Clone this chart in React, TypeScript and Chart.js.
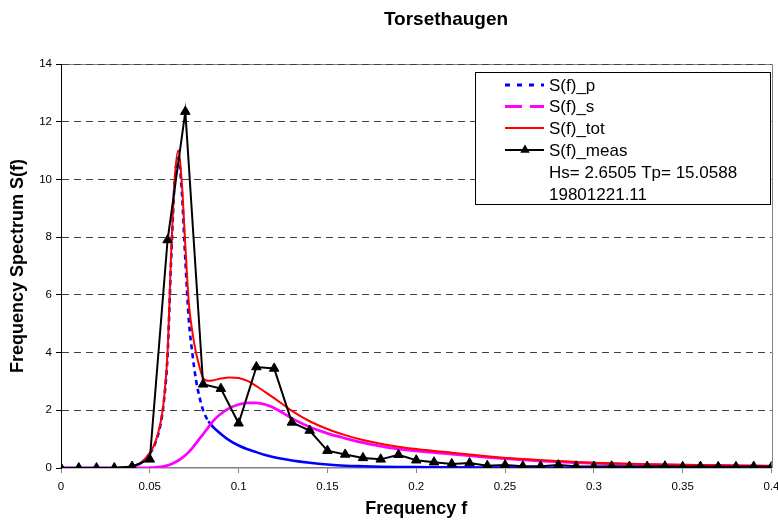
import React, { useEffect, useRef } from 'react';
import { Chart, registerables } from 'chart.js';

Chart.register(...registerables);

// ---- Data ----
const chartTitle = 'Torsethaugen';
const xAxisTitle = 'Frequency f';
const yAxisTitle = 'Frequency Spectrum S(f)';
const seriesLabels = ['S(f)_p', 'S(f)_s', 'S(f)_tot', 'S(f)_meas'];
const legendNotes = ['Hs= 2.6505 Tp= 15.0588', '19801221.11'];

const xTickValues = [0, 0.05, 0.1, 0.15, 0.2, 0.25, 0.3, 0.35, 0.4];
const xTickLabels = ['0', '0.05', '0.1', '0.15', '0.2', '0.25', '0.3', '0.35', '0.4'];
const yTickValues = [0, 2, 4, 6, 8, 10, 12, 14];

const measFreq = [
  0, 0.01, 0.02, 0.03, 0.04, 0.05, 0.06, 0.07, 0.08, 0.09, 0.1, 0.11, 0.12, 0.13,
  0.14, 0.15, 0.16, 0.17, 0.18, 0.19, 0.2, 0.21, 0.22, 0.23, 0.24, 0.25, 0.26, 0.27,
  0.28, 0.29, 0.3, 0.31, 0.32, 0.33, 0.34, 0.35, 0.36, 0.37, 0.38, 0.39, 0.4,
];
const measValues = [
  0, 0, 0, 0, 0.05, 0.3, 7.9, 12.35, 2.9, 2.75, 1.55, 3.5, 3.45, 1.58,
  1.3, 0.6, 0.47, 0.35, 0.3, 0.46, 0.27, 0.2, 0.14, 0.17, 0.08, 0.1, 0.06, 0.06,
  0.1, 0.06, 0.05, 0.06, 0.05, 0.05, 0.06, 0.04, 0.05, 0.04, 0.04, 0.05, 0.04,
];

const curveFreq = [
  0, 0.02, 0.035, 0.04, 0.045, 0.05, 0.053, 0.056, 0.058, 0.06, 0.062, 0.064, 0.066,
  0.068, 0.07, 0.072, 0.074, 0.076, 0.078, 0.08, 0.083, 0.086, 0.09, 0.095, 0.1,
  0.105, 0.11, 0.115, 0.12, 0.13, 0.14, 0.15, 0.16, 0.17, 0.18, 0.19, 0.2, 0.22,
  0.24, 0.26, 0.28, 0.3, 0.33, 0.36, 0.4,
];
const sPrimary = [
  0, 0, 0.01, 0.05, 0.17, 0.5, 0.85, 1.5, 2.35, 3.9, 7.2, 9.9, 10.75,
  9.6, 7.2, 5.1, 3.95, 3.05, 2.45, 2.0, 1.62, 1.4, 1.18, 0.95, 0.78,
  0.65, 0.55, 0.45, 0.37, 0.26, 0.18, 0.12, 0.08, 0.06, 0.045, 0.035, 0.03, 0.02,
  0.015, 0.012, 0.01, 0.008, 0.006, 0.005, 0.004,
];
const sSecondary = [
  0, 0, 0, 0, 0, 0.01, 0.02, 0.04, 0.06, 0.09, 0.13, 0.19, 0.26,
  0.34, 0.44, 0.56, 0.7, 0.85, 1.02, 1.17, 1.42, 1.65, 1.88, 2.08, 2.2,
  2.26, 2.26, 2.2, 2.08, 1.72, 1.42, 1.2, 1.03, 0.88, 0.76, 0.66, 0.59, 0.48,
  0.37, 0.28, 0.21, 0.165, 0.12, 0.09, 0.06,
];
const sTotal = [
  0, 0, 0.01, 0.05, 0.18, 0.52, 0.88, 1.55, 2.4, 4.0, 7.4, 10.0, 11.0,
  9.9, 7.7, 5.7, 4.7, 4.0, 3.5, 3.12, 3.02, 3.04, 3.1, 3.14, 3.12,
  3.02, 2.84, 2.63, 2.42, 1.98, 1.62, 1.35, 1.14, 0.97, 0.84, 0.74, 0.66, 0.53,
  0.41, 0.31, 0.24, 0.18, 0.13, 0.1, 0.07,
];

const BLUE = '#0000ff';
const MAGENTA = '#ff00ff';
const RED = '#ff0000';
const BLACK = '#000000';
const GRID = '#404040';
const FONT = '"Liberation Sans", Arial, Helvetica, sans-serif';

const toXY = (xs: number[], ys: number[]) => xs.map((x, i) => ({ x, y: ys[i] }));

const decorPlugin = {
  id: 'decor',
  beforeDraw(chart: any) {
    const { ctx, chartArea: a } = chart;
    ctx.save();
    ctx.fillStyle = '#ffffff';
    ctx.fillRect(0, 0, chart.width, chart.height);
    ctx.strokeStyle = '#808080';
    ctx.lineWidth = 1;
    ctx.beginPath();
    ctx.moveTo(a.left, Math.round(a.top) + 0.5);
    ctx.lineTo(Math.round(a.right) + 0.5, Math.round(a.top) + 0.5);
    ctx.lineTo(Math.round(a.right) + 0.5, a.bottom);
    ctx.stroke();
    ctx.restore();
  },
  afterDraw(chart: any) {
    const { ctx, chartArea: a } = chart;
    ctx.save();
    // titles
    ctx.fillStyle = '#000';
    ctx.font = `bold 19px ${FONT}`;
    ctx.textAlign = 'center';
    ctx.textBaseline = 'alphabetic';
    ctx.fillText(chartTitle, 446, 25);
    ctx.font = `bold 18px ${FONT}`;
    ctx.fillText(xAxisTitle, (a.left + a.right) / 2, 514);
    ctx.save();
    ctx.translate(18, (a.top + a.bottom) / 2);
    ctx.rotate(-Math.PI / 2);
    ctx.textBaseline = 'middle';
    ctx.fillText(yAxisTitle, 0, 0);
    ctx.restore();

    // legend
    const bx = 475.5, by = 72.5, bw = 295, bh = 132;
    ctx.fillStyle = '#fff';
    ctx.fillRect(bx, by, bw, bh);
    ctx.strokeStyle = '#000';
    ctx.lineWidth = 1;
    ctx.strokeRect(bx, by, bw, bh);
    const rows = [85, 106.5, 128, 150, 172, 194];
    const x0 = 505, x1 = 544, tx = 549;
    const styles = [
      { color: BLUE, dash: [5, 7], width: 3 },
      { color: MAGENTA, dash: [17, 8], width: 3 },
      { color: RED, dash: [], width: 2 },
      { color: BLACK, dash: [], width: 2 },
    ];
    ctx.font = `17px ${FONT}`;
    ctx.textAlign = 'left';
    ctx.textBaseline = 'middle';
    styles.forEach((s, i) => {
      ctx.save();
      ctx.strokeStyle = s.color;
      ctx.lineWidth = s.width;
      ctx.setLineDash(s.dash);
      ctx.beginPath();
      ctx.moveTo(x0, rows[i]);
      ctx.lineTo(x1, rows[i]);
      ctx.stroke();
      ctx.restore();
      ctx.fillStyle = '#000';
      ctx.fillText(seriesLabels[i], tx, rows[i] + 1);
    });
    // triangle marker on meas sample
    const cx = 525, cy = rows[3], r = 5.5;
    ctx.fillStyle = '#000';
    ctx.beginPath();
    ctx.moveTo(cx, cy - r);
    ctx.lineTo(cx + r * 0.866, cy + r * 0.5);
    ctx.lineTo(cx - r * 0.866, cy + r * 0.5);
    ctx.closePath();
    ctx.fill();
    legendNotes.forEach((t, i) => {
      ctx.fillText(t, tx, rows[4 + i] + 1);
    });
    ctx.restore();
  },
};

export default function App() {
  const ref = useRef<HTMLCanvasElement | null>(null);

  useEffect(() => {
    if (!ref.current) return;
    const chart = new Chart(ref.current, {
      type: 'line',
      data: {
        datasets: [
          {
            label: seriesLabels[3],
            data: toXY(measFreq, measValues),
            borderColor: BLACK,
            backgroundColor: BLACK,
            borderWidth: 2,
            pointStyle: 'triangle',
            pointRadius: 5.5,
            pointBorderWidth: 1,
            tension: 0,
            order: 0,
          },
          {
            label: seriesLabels[2],
            data: toXY(curveFreq, sTotal),
            borderColor: RED,
            borderWidth: 2,
            pointRadius: 0,
            cubicInterpolationMode: 'monotone',
            order: 1,
          },
          {
            label: seriesLabels[1],
            data: toXY(curveFreq, sSecondary),
            borderColor: MAGENTA,
            borderWidth: 2.8,
            pointRadius: 0,
            cubicInterpolationMode: 'monotone',
            order: 2,
          },
          {
            label: seriesLabels[0],
            data: toXY(curveFreq, sPrimary),
            borderColor: BLUE,
            borderWidth: 2.6,
            pointRadius: 0,
            cubicInterpolationMode: 'monotone',
            borderDash: [],
            segment: {
              borderDash: (c: any) => {
                const dx = Math.abs(c.p1.x - c.p0.x);
                const dy = Math.abs(c.p1.y - c.p0.y);
                return dy > 1.5 * dx ? [5, 4] : undefined;
              },
            },
            order: 3,
          },
        ],
      },
      options: {
        animation: false,
        responsive: false,
        devicePixelRatio: 1,
        layout: { padding: { left: 0, right: 3, top: 64, bottom: 0 } },
        plugins: {
          legend: { display: false },
          title: { display: false },
          tooltip: { enabled: false },
        },
        scales: {
          x: {
            type: 'linear',
            min: 0,
            max: 0.4,
            afterBuildTicks: (scale: any) => {
              scale.ticks = xTickValues.map((v) => ({ value: v }));
            },
            afterFit: (scale: any) => {
              scale.height = 53;
              scale.paddingLeft = 0;
              scale.paddingRight = 0;
            },
            ticks: {
              autoSkip: false,
              maxRotation: 0,
              padding: 7,
              color: '#000',
              font: { family: FONT, size: 11.5 },
              callback: (_v: any, i: number) => xTickLabels[i],
            },
            grid: {
              drawOnChartArea: false,
              drawTicks: true,
              tickLength: 5,
              color: '#808080',
              tickColor: '#808080',
            },
            border: { display: true, color: '#808080', width: 1.5 },
          },
          y: {
            type: 'linear',
            min: 0,
            max: 14,
            afterBuildTicks: (scale: any) => {
              scale.ticks = yTickValues.map((v) => ({ value: v }));
            },
            afterFit: (scale: any) => {
              scale.width = 61;
              scale.paddingTop = 0;
              scale.paddingBottom = 0;
            },
            ticks: {
              autoSkip: false,
              padding: 4,
              color: '#000',
              font: { family: FONT, size: 11.5 },
              callback: (v: any) => String(v),
            },
            grid: {
              drawTicks: true,
              tickLength: 5,
              lineWidth: 1,
              color: (c: any) => (c.tick && c.tick.value === 0 ? 'rgba(0,0,0,0)' : GRID),
              tickColor: '#000',
              tickBorderDash: [],
            },
            border: { display: true, color: '#000', width: 1, dash: [7, 5] },
          },
        },
      },
      plugins: [decorPlugin],
    });
    return () => chart.destroy();
  }, []);

  return (
    <div style={{ position: 'absolute', left: 0, top: 0, width: 778, height: 521 }}>
      <canvas ref={ref} width={778} height={521} style={{ display: 'block' }} />
    </div>
  );
}
